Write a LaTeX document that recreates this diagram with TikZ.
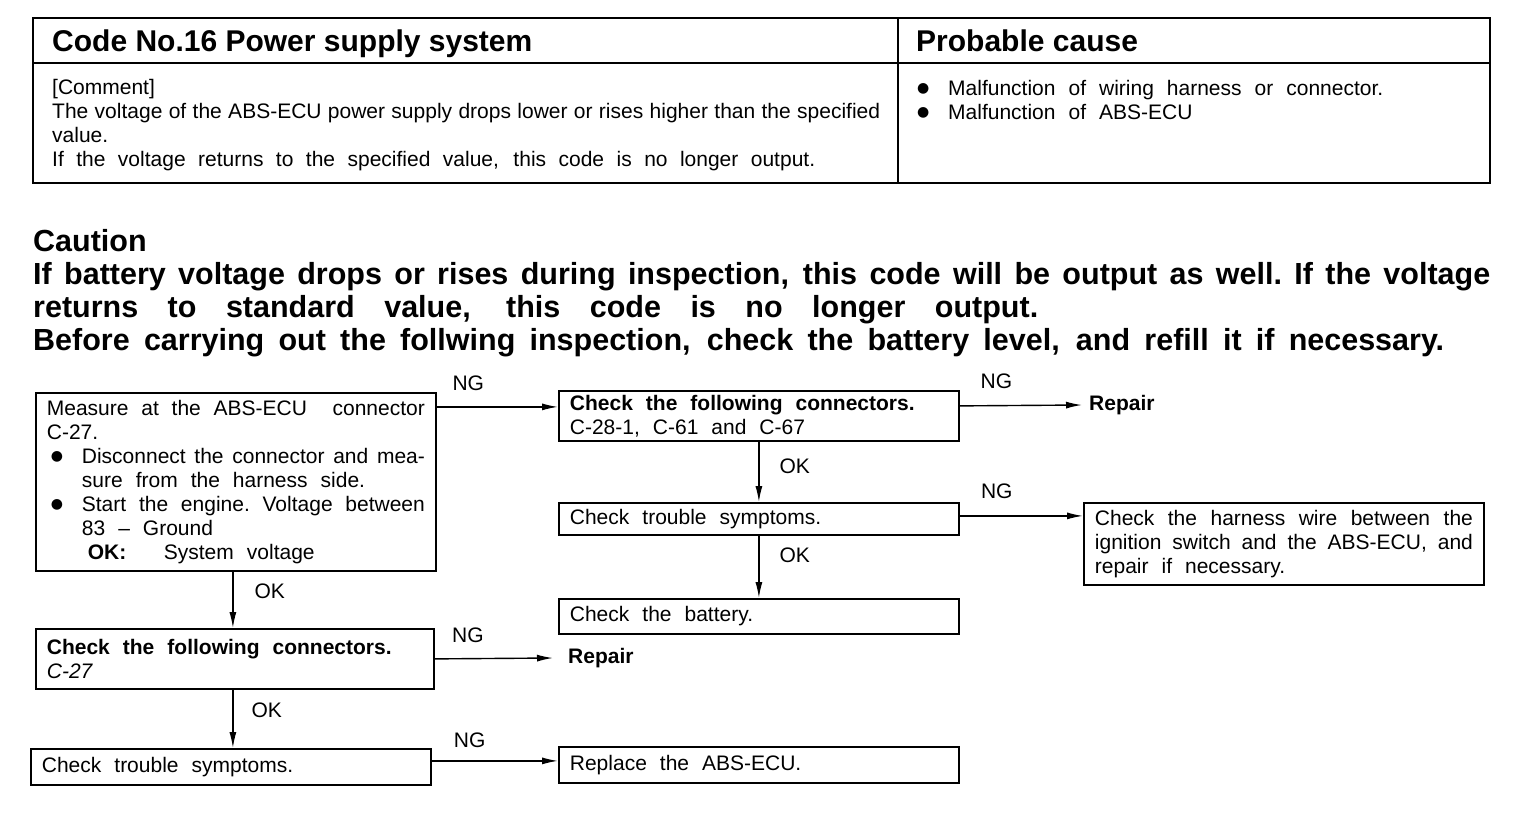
\documentclass[tikz,border=0pt]{standalone}
\usepackage{fontspec}
\setmainfont{Liberation Sans}
\newfontfamily\dotfont{DejaVu Sans}
\usepackage{tikz}
\usetikzlibrary{arrows.meta,calc,positioning}
\newcommand{\bodyfont}{\fontsize{21}{24}\selectfont\spaceskip=0.62em plus 0.3em minus 0.2em\relax}
\newcommand{\headfont}{\fontsize{30}{34}\selectfont\bfseries}
\newcommand{\cautionfont}{\fontsize{30.5}{33}\selectfont\bfseries\spaceskip=0.5em plus 0.5em minus 0.1em\relax}
\newcommand{\fillline}[2]{\makebox[#1][s]{\spaceskip=0.2em plus 1fil\xspaceskip=0.2em plus 1fil\relax #2}}
\newcommand{\bul}{\makebox[31pt][l]{\raisebox{2.5pt}{\dotfont\fontsize{14}{14}\selectfont ●}}}

\begin{document}
\begin{tikzpicture}[x=1pt,y=-1pt,
  box/.style={draw,line width=1.8pt,anchor=north west,inner xsep=11pt,inner ysep=0pt,
    text width=378pt,align=left,font=\bodyfont,
    execute at begin node={\spaceskip=0.62em plus 0.3em minus 0.2em\relax}},
  flow/.style={line width=1.4pt,-{Latex[length=16pt,width=7pt]}},
  lbl/.style={font=\bodyfont,inner sep=0pt}]
  \useasboundingbox (0,0) rectangle (1536,818);
  % table: code and probable cause
  \draw[line width=2.4pt] (33,18) rectangle (1490,183);
  \draw[line width=1.8pt] (33,63) -- (1490,63) (898,18) -- (898,183);
  \node[anchor=base west,inner sep=0pt,font=\headfont] (code) at (52,52) {Code No.16 Power supply system};
  \node[anchor=base west,inner sep=0pt,font=\headfont] (cause) at (916,52) {Probable cause};
  \node[anchor=north west,inner sep=0pt,align=left,font=\bodyfont] (comment) at (52,79)
    {[Comment]\\
     \fillline{828pt}{The voltage of the ABS-ECU power supply drops lower or rises higher than the specified}\\
     value.\\
     \fillline{763pt}{If the voltage returns to the specified value, this code is no longer output.}};
  \node[anchor=north west,inner sep=0pt,align=left,font=\bodyfont] (causes) at (917,80)
    {\bul Malfunction of wiring harness or connector.\\
     \bul Malfunction of ABS-ECU};
  % caution
  \node[anchor=north west,inner sep=0pt,align=left,font=\cautionfont] (caution) at (33,229)
    {Caution\\
     \fillline{1457pt}{If battery voltage drops or rises during inspection, this code will be output as well. If the voltage}\\
     \fillline{1005pt}{returns to standard value, this code is no longer output.}\\
     \fillline{1411pt}{Before carrying out the follwing inspection, check the battery level, and refill it if necessary.}};
  % flow boxes
  \node[box,minimum height=178pt] (meas) at (35,392)
    {\fillline{378pt}{Measure at the ABS-ECU \ connector}\\
     C-27.\\
     \hspace*{4pt}\bul\fillline{343pt}{Disconnect the connector and mea-}\\
     \hspace*{35pt}sure from the harness side.\\
     \hspace*{4pt}\bul\fillline{343pt}{Start the engine. Voltage between}\\
     \hspace*{35pt}83 -- Ground\\
     \hspace*{41pt}\makebox[76pt][l]{\textbf{OK:}}System voltage};
  \node[box,minimum height=50pt] (chkA) at (558,390)
    {\textbf{Check the following connectors.}\\ C-28-1, C-61 and C-67};
  \node[box,minimum height=32pt] (symA) at (558,502) {Check trouble symptoms.};
  \node[box,minimum height=35pt] (battery) at (558,598) {Check the battery.};
  \node[box,minimum height=82pt] (harness) at (1083,502)
    {\fillline{378pt}{Check the harness wire between the}\\
     \fillline{378pt}{ignition switch and the ABS-ECU, and}\\
     repair if necessary.};
  \node[box,minimum height=60pt,text width=376pt] (chkB) at (35,628)
    {\textbf{Check the following connectors.}\\ \textit{C-27}};
  \node[box,minimum height=36pt] (symB) at (30,748) {Check trouble symptoms.};
  \node[box,minimum height=36pt] (replace) at (558,746) {Replace the ABS-ECU.};
  \node[anchor=west,inner xsep=7pt,inner ysep=0pt,font=\bodyfont\bfseries] (repairA) at (1082,405) {Repair};
  \node[anchor=west,inner xsep=15pt,inner ysep=0pt,font=\bodyfont\bfseries] (repairB) at (553,658) {Repair};
  % NG branches
  \coordinate (ngA) at ([yshift=9pt]chkA.west);
  \coordinate (ngC) at ([yshift=3pt]symA.east);
  \coordinate (ngE) at ([yshift=4pt]replace.west);
  \draw[flow] (meas.east |- ngA) -- node[lbl,above=15pt,pos=0.26]{NG} (ngA);
  \draw[flow] ([yshift=10pt]chkA.east) -- node[lbl,above=16pt,pos=0.3]{NG} (repairA.west);
  \draw[flow] (ngC) -- node[lbl,above=16pt,pos=0.3]{NG} (ngC -| harness.west);
  \draw[flow] (chkB.east) -- node[lbl,above=15pt,pos=0.28]{NG} (repairB.west);
  \draw[flow] (symB.east |- ngE) -- node[lbl,above=13pt,pos=0.3]{NG} (ngE);
  % OK branches
  \coordinate (okA) at ([xshift=-3pt]meas.south);
  \draw[flow] (chkA) -- node[lbl,right=20pt,pos=0.4]{OK} (symA);
  \draw[flow] (symA) -- node[lbl,right=20pt,pos=0.31]{OK} (battery);
  \draw[flow] (okA) -- node[lbl,right=21pt,pos=0.34]{OK} (okA |- chkB.north);
  \draw[flow] (chkB.south -| okA) -- node[lbl,right=18pt,pos=0.35]{OK} (okA |- symB.north);
\end{tikzpicture}
\end{document}
